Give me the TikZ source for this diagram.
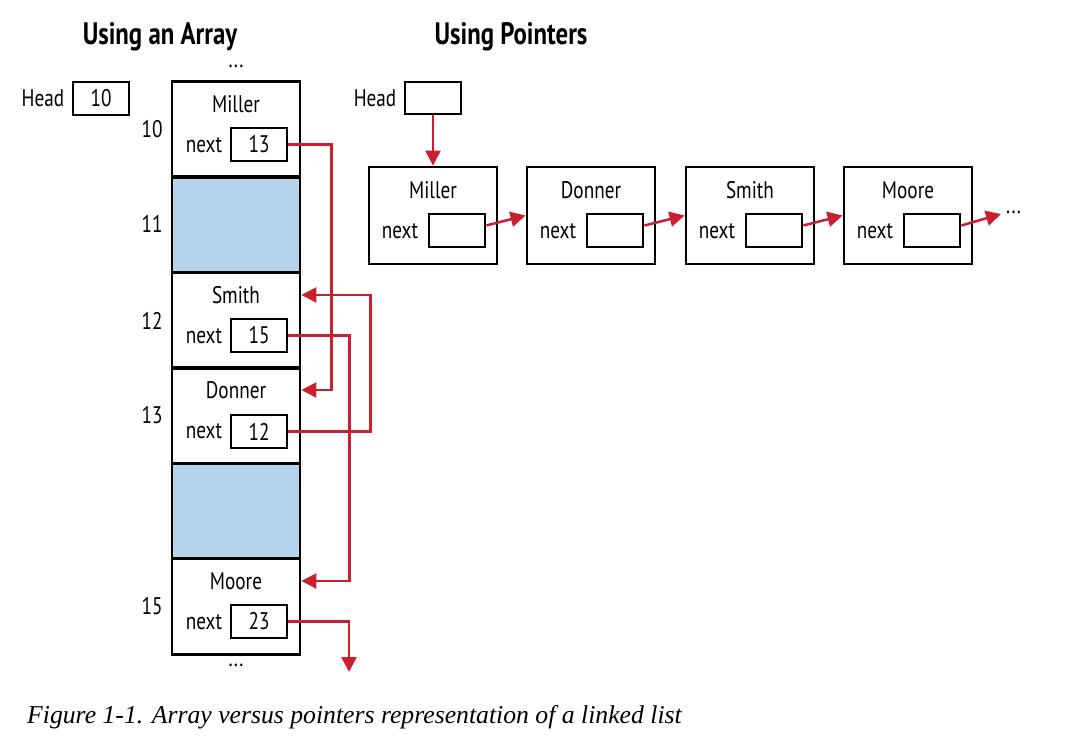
\documentclass[tikz,border=0pt]{standalone}
\usepackage{fontspec}
\setmainfont{PT Sans}[FakeStretch=0.8]
\newfontfamily\capfont{Liberation Serif}
\usetikzlibrary{arrows.meta}
\definecolor{arrred}{HTML}{C8202F}
\definecolor{cellblue}{HTML}{B3D4EA}
\tikzset{
  bx/.style={draw=black, line width=2.8pt, inner sep=0pt},
  cellbox/.style={bx, minimum width=128pt, minimum height=95.5pt},
  ptrbox/.style={bx, minimum width=56pt, minimum height=33pt, font=\fontsize{24}{26}\selectfont},
  listbox/.style={bx, minimum width=128pt, minimum height=97pt},
  lbl/.style={font=\fontsize{24}{26}\selectfont, inner sep=0pt},
  ttl/.style={font=\fontsize{31}{33}\selectfont\bfseries, inner sep=0pt},
  redarr/.style={draw=arrred, line width=2.5pt, -{Triangle[length=15pt,width=15pt]}},
}
\begin{document}
\begin{tikzpicture}[x=1pt,y=-1pt]
\useasboundingbox (0,0) rectangle (1065,744);
% titles
\node[ttl] (t1) at (160,37) {Using an Array};
\node[ttl] (t2) at (511,37) {Using Pointers};
% array head
\node[lbl] (hl1) at (43,98) {Head};
\node[ptrbox] (h1) at (101,98.5) {10};
% array cells
\node[cellbox] (c10) at (236,129) {};
\node[cellbox, fill=cellblue] (c11) at (236,225) {};
\node[cellbox] (c12) at (236,320.5) {};
\node[cellbox] (c13) at (236,415.5) {};
\node[cellbox, fill=cellblue] (c14) at (236,511) {};
\node[cellbox] (c15) at (236,606.5) {};
\node[lbl] (dt) at (236,66) {...};
\node[lbl] (db) at (236,665) {...};
% indices
\node[lbl] (i10) at (152,129) {10};
\node[lbl] (i11) at (152,224) {11};
\node[lbl] (i12) at (152,321) {12};
\node[lbl] (i13) at (152,415) {13};
\node[lbl] (i15) at (152,606) {15};
% names
\node[lbl] (n10) at (236,104) {Miller};
\node[lbl] (n12) at (236,295) {Smith};
\node[lbl] (n13) at (236,390) {Donner};
\node[lbl] (n15) at (236,581) {Moore};
% next labels and pointer boxes
\node[lbl] (x10) at (204,145) {next};
\node[ptrbox] (p10) at (259,144.5) {13};
\node[lbl] (x12) at (204,336) {next};
\node[ptrbox] (p12) at (259,335.5) {15};
\node[lbl] (x13) at (204,431) {next};
\node[ptrbox] (p13) at (259,431.5) {12};
\node[lbl] (x15) at (204,622) {next};
\node[ptrbox] (p15) at (259,621.5) {23};
% array arrows
\draw[redarr] (p10.east) -- ++(43,0) |- (c13.east |- n13);
\draw[redarr] (p13.east) -- ++(82,0) |- (c12.east |- n12);
\draw[redarr] (p12.east) -- ++(61,0) |- (c15.east |- n15);
\coordinate (end15) at (349,672);
\draw[redarr] (p15.east) -| (end15);
% pointers side
\node[lbl] (hl2) at (375,98) {Head};
\node[bx, minimum width=56pt, minimum height=32pt] (h2) at (433,98) {};
\foreach \nm/\cx/\txt in {lm/433/Miller, ld/591/Donner, ls/750/Smith, lo/908/Moore}{
  \node[listbox] (\nm) at (\cx,215.5) {};
  \node[lbl] (\nm-name) at (\cx,190) {\txt};
  \node[lbl] (\nm-next) at ([xshift=-33pt]\nm.center |- 0,231) {next};
  \node[ptrbox] (\nm-p) at ([xshift=24pt]\nm.center |- 0,230.5) {};
}
\draw[redarr] (h2.south) -- (lm.north);
\draw[redarr] ([yshift=5pt]lm-p.east) -- (ld.west);
\draw[redarr] ([yshift=5pt]ld-p.east) -- (ls.west);
\draw[redarr] ([yshift=5pt]ls-p.east) -- (lo.west);
\coordinate (lend) at (1001,214);
\draw[redarr] ([yshift=5pt]lo-p.east) -- (lend);
\node[lbl, anchor=west] (ldots) at (1006,212) {...};
% caption
\node[anchor=west, inner sep=0pt, font=\fontsize{25.7}{28}\selectfont\capfont\itshape] (cap) at (27,717) {Figure 1-1. Array versus pointers representation of a linked list};
\end{tikzpicture}
\end{document}
